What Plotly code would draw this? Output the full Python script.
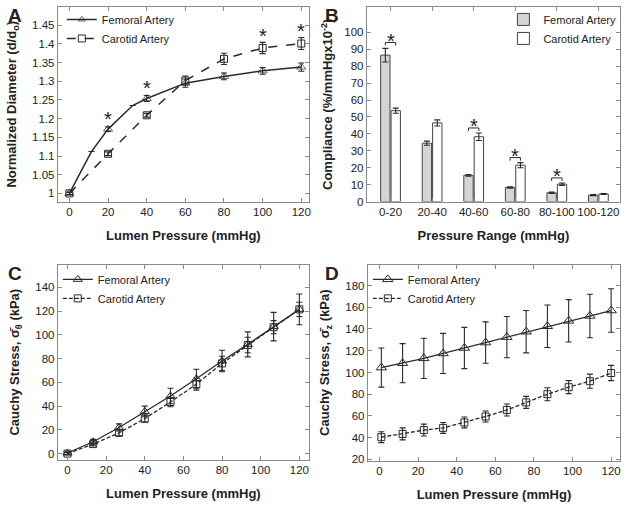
import plotly.graph_objects as go

# ---------------- Data ----------------
# Panel A: normalized diameter
a_fem_x = [0, 11.4, 20, 32.7, 40, 60, 80, 100, 120]
a_fem_y = [1.0, 1.112, 1.172, 1.235, 1.254, 1.295, 1.313, 1.328, 1.338]
a_fem_err = [0.003, 0, 0.006, 0, 0.008, 0.011, 0.009, 0.009, 0.011]
a_fem_marker = [True, False, True, False, True, True, True, True, True]
a_car_x = [0, 20, 40, 60, 80, 100, 120]
a_car_y = [1.0, 1.106, 1.209, 1.302, 1.360, 1.389, 1.401]
a_car_err = [0.003, 0.005, 0.005, 0.012, 0.015, 0.015, 0.016]
a_star_x = [20, 40, 100, 120]
a_star_y = [1.215, 1.297, 1.438, 1.450]

# Panel B: compliance
b_cats = ["0-20", "20-40", "40-60", "60-80", "80-100", "100-120"]
b_fem = [86.5, 34.5, 15.5, 8.3, 5.2, 3.8]
b_fem_err = [4.0, 1.2, 0.5, 0.4, 0.4, 0.3]
b_car = [53.7, 46.5, 38.3, 21.5, 10.3, 4.5]
b_car_err = [1.5, 1.8, 2.2, 1.5, 0.7, 0.3]
b_sig_idx = [0, 2, 3, 4]
b_sig_y = [94, 43.5, 26, 14]

# Panel C: circumferential Cauchy stress
c_x = [0, 13.3, 26.7, 40, 53.3, 66.7, 80, 93.3, 106.7, 120]
c_fem = [0.5, 10, 22, 35.5, 48.5, 63, 78, 92, 107, 121.5]
c_fem_err = [1, 2, 3, 4.5, 6.5, 8, 9, 10.5, 12, 13]
c_car = [0, 8, 17.5, 29.5, 43.5, 58.5, 76, 91.5, 106.5, 121.5]
c_car_err = [1, 1.5, 2.5, 3, 4, 5, 6, 6.5, 5.5, 6]

# Panel D: axial Cauchy stress
d_x = [1, 12, 23, 33, 44, 55, 66, 76, 87, 98, 109, 120]
d_fem = [104.5, 108.5, 113, 117.5, 122.5, 127.5, 132.5, 137.5, 142.5, 147.5, 152, 157]
d_fem_err = [18, 18, 18.5, 18.5, 19, 19, 19, 19.5, 19.5, 19.5, 20, 20]
d_car = [40.5, 43.5, 47, 49, 54, 59.5, 65.5, 72.5, 80, 86.5, 92, 99.5]
d_car_err = [5, 5.5, 5.5, 5, 5, 5, 5.5, 5.5, 6, 6, 6.5, 7]

# ---------------- Style ----------------
FONT = "Liberation Sans, Arial, sans-serif"
INK = "#222222"
FRAME = "#8a8a8a"
LINE = "#2a2a2a"

fig = go.Figure()

def err(vals, w=3):
    return dict(type="data", array=vals, visible=True, color=LINE, thickness=1.1, width=w)

# Panel A
fig.add_trace(go.Scatter(
    x=a_fem_x, y=a_fem_y, mode="lines+markers", name="Femoral Artery",
    line=dict(color=LINE, width=1.5),
    marker=dict(symbol="triangle-up-open", size=[8 if m else 0 for m in a_fem_marker],
                color=LINE, line=dict(width=1)),
    error_y=err(a_fem_err), xaxis="x", yaxis="y", legend="legend"))
fig.add_trace(go.Scatter(
    x=a_car_x, y=a_car_y, mode="lines+markers", name="Carotid Artery",
    line=dict(color=LINE, width=1.5, dash="dash"),
    marker=dict(symbol="square-open", size=7, color=LINE, line=dict(width=1)),
    error_y=err(a_car_err), xaxis="x", yaxis="y", legend="legend"))
for sx, sy in zip(a_star_x, a_star_y):
    fig.add_annotation(x=sx, y=sy, xref="x", yref="y", text="*", showarrow=False,
                       font=dict(size=20, color=INK, family=FONT), yshift=-6)

# Panel B
b_pos = list(range(len(b_cats)))
fig.add_trace(go.Bar(
    x=b_pos, y=b_fem, name="Femoral Artery", marker=dict(color="#d4d4d4", line=dict(color="#444", width=1)),
    error_y=err(b_fem_err, 3), xaxis="x2", yaxis="y2", legend="legend2", offsetgroup="f"))
fig.add_trace(go.Bar(
    x=b_pos, y=b_car, name="Carotid Artery", marker=dict(color="white", line=dict(color="#444", width=1)),
    error_y=err(b_car_err, 3), xaxis="x2", yaxis="y2", legend="legend2", offsetgroup="c"))
half = 0.125
for i, yb in zip(b_sig_idx, b_sig_y):
    fig.add_trace(go.Scatter(
        x=[i - half, i - half, i + half, i + half], y=[yb - 1.8, yb, yb, yb - 1.8],
        mode="lines", line=dict(color=LINE, width=1), showlegend=False, hoverinfo="skip",
        xaxis="x2", yaxis="y2"))
    fig.add_annotation(x=i, y=yb + 4, xref="x2", yref="y2", text="*", showarrow=False,
                       font=dict(size=20, color=INK, family=FONT), yshift=-5)

# Panel C
fig.add_trace(go.Scatter(
    x=c_x, y=c_fem, mode="lines+markers", name="Femoral Artery",
    line=dict(color=LINE, width=1.3),
    marker=dict(symbol="triangle-up-open", size=8, color=LINE, line=dict(width=1)),
    error_y=err(c_fem_err), xaxis="x3", yaxis="y3", legend="legend3"))
fig.add_trace(go.Scatter(
    x=c_x, y=c_car, mode="lines+markers", name="Carotid Artery",
    line=dict(color=LINE, width=1.3, dash="4px,2px"),
    marker=dict(symbol="square-open", size=7, color=LINE, line=dict(width=1)),
    error_y=err(c_car_err), xaxis="x3", yaxis="y3", legend="legend3"))

# Panel D
fig.add_trace(go.Scatter(
    x=d_x, y=d_fem, mode="lines+markers", name="Femoral Artery",
    line=dict(color=LINE, width=1.3),
    marker=dict(symbol="triangle-up-open", size=9, color=LINE, line=dict(width=1)),
    error_y=err(d_fem_err), xaxis="x4", yaxis="y4", legend="legend4"))
fig.add_trace(go.Scatter(
    x=d_x, y=d_car, mode="lines+markers", name="Carotid Artery",
    line=dict(color=LINE, width=1.3, dash="4px,2px"),
    marker=dict(symbol="square-open", size=7, color=LINE, line=dict(width=1)),
    error_y=err(d_car_err), xaxis="x4", yaxis="y4", legend="legend4"))

W, H = 629, 511
def px_x(a, b):
    return [a / W, b / W]
def px_y(top, bottom):
    return [1 - bottom / H, 1 - top / H]

ax = dict(showline=True, linecolor=FRAME, linewidth=1, mirror="ticks", ticks="inside",
          ticklen=4, tickcolor=FRAME, showgrid=False, zeroline=False, tickangle=0,
          tickfont=dict(size=11.5, color=INK, family=FONT))
tf = dict(size=13, color=INK, family=FONT, weight="bold")

def xt(t):
    return dict(text=t, font=tf, standoff=13)
def yt(t, s):
    return dict(text=t, font=tf, standoff=s)

leg = dict(bgcolor="rgba(0,0,0,0)", font=dict(size=11, color=INK, family=FONT),
           xanchor="left", yanchor="top", itemwidth=30, tracegroupgap=0)

fig.update_layout(
    width=W, height=H, margin=dict(l=0, r=0, t=0, b=0),
    paper_bgcolor="white", plot_bgcolor="white",
    font=dict(family=FONT, color=INK),
    barmode="group", bargap=0.5, bargroupgap=0.1,
    xaxis=dict(ax, domain=px_x(58, 310), range=[-6, 124], tickvals=[0, 20, 40, 60, 80, 100, 120],
               title=xt("Lumen Pressure (mmHg)"), anchor="y"),
    yaxis=dict(ax, domain=px_y(7, 204), range=[0.978, 1.499], dtick=0.05, tick0=1,
               title=yt("Normalized Diameter (d/d<sub>o</sub>)", 12), anchor="x"),
    xaxis2=dict(ax, domain=px_x(368, 622), range=[-0.57, 5.52], tickvals=b_pos, ticktext=b_cats,
                title=xt("Pressure Range (mmHg)"), anchor="y2"),
    yaxis2=dict(ax, domain=px_y(7, 204), range=[0, 115], tickvals=list(range(0, 101, 10)),
                title=yt("Compliance (%/mmHgx10<sup>-2</sup>)", 8), anchor="x2"),
    xaxis3=dict(ax, domain=px_x(58, 310), range=[-5, 125], tickvals=[0, 20, 40, 60, 80, 100, 120],
                title=xt("Lumen Pressure (mmHg)"), anchor="y3"),
    yaxis3=dict(ax, domain=px_y(268, 465), range=[-5, 159], tickvals=list(range(0, 141, 20)),
                title=yt("Cauchy Stress, σ\u0304<sub>θ</sub> (kPa)", 12), anchor="x3"),
    xaxis4=dict(ax, domain=px_x(369, 622), range=[-6, 124.6], tickvals=[0, 20, 40, 60, 80, 100, 120],
                title=xt("Lumen Pressure (mmHg)"), anchor="y4"),
    yaxis4=dict(ax, domain=px_y(268, 466), range=[19, 199], tickvals=list(range(20, 181, 20)),
                title=yt("Cauchy Stress, σ\u0304<sub>z</sub> (kPa)", 12), anchor="x4"),
    legend=dict(leg, x=62 / W, y=1 - 5 / H),
    legend2=dict(leg, x=505 / W, y=1 - 5 / H),
    legend3=dict(leg, x=58 / W, y=1 - 268 / H),
    legend4=dict(leg, x=369 / W, y=1 - 268 / H),
    showlegend=True,
)

for txt, x, y in [("A", 15, 16), ("B", 333, 16), ("C", 15, 277), ("D", 333, 277)]:
    fig.add_annotation(text=txt, x=x / W, y=1 - y / H, xref="paper", yref="paper",
                       showarrow=False, font=dict(size=19, color=INK, family=FONT, weight="bold"),
                       xanchor="center", yanchor="middle")

fig.write_html("out.html", config={"displayModeBar": False},
               post_script="document.body.style.margin='0';document.body.style.overflow='hidden';")
